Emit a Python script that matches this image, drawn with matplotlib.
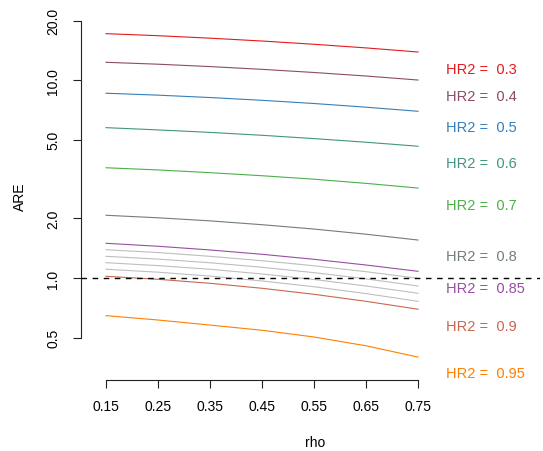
import matplotlib
matplotlib.use("Agg")
import matplotlib.pyplot as plt

plt.rcParams['font.family'] = ['Liberation Sans', 'DejaVu Sans']
plt.rcParams['lines.scale_dashes'] = False

rho = [0.15, 0.25, 0.35, 0.45, 0.55, 0.65, 0.75]

hr2_labeled = [0.3, 0.4, 0.5, 0.6, 0.7, 0.8, 0.85, 0.9, 0.95]
are_labeled = {
    0.3:  [17.21, 16.81, 16.33, 15.80, 15.21, 14.58, 13.90],
    0.4:  [12.33, 12.06, 11.73, 11.36, 10.95, 10.51, 10.03],
    0.5:  [8.60, 8.41, 8.18, 7.92, 7.63, 7.31, 6.97],
    0.6:  [5.76, 5.61, 5.45, 5.27, 5.07, 4.86, 4.64],
    0.7:  [3.61, 3.52, 3.41, 3.29, 3.16, 3.01, 2.85],
    0.8:  [2.076, 2.016, 1.945, 1.860, 1.768, 1.665, 1.556],
    0.85: [1.498, 1.447, 1.386, 1.318, 1.243, 1.163, 1.081],
    0.9:  [1.020, 0.985, 0.940, 0.887, 0.827, 0.762, 0.695],
    0.95: [0.645, 0.613, 0.578, 0.544, 0.503, 0.454, 0.398],
}
hr2_grey = [0.86, 0.87, 0.88, 0.89]
are_grey = {
    0.86: [1.390, 1.345, 1.287, 1.223, 1.153, 1.076, 0.997],
    0.87: [1.287, 1.246, 1.194, 1.133, 1.064, 0.990, 0.911],
    0.88: [1.195, 1.155, 1.107, 1.048, 0.983, 0.911, 0.837],
    0.89: [1.107, 1.070, 1.022, 0.966, 0.903, 0.834, 0.762],
}
colors = ["#E41A1C", "#8D4C6A", "#377EB8", "#429681", "#4DAF4A",
          "#727E76", "#984EA3", "#CB6651", "#FF7F00"]
label_x = 0.804
label_y = [11.41, 8.30, 5.78, 3.82, 2.35, 1.287, 0.890, 0.574, 0.331]

yticks = [0.5, 1.0, 2.0, 5.0, 10.0, 20.0]
ytick_labels = ["0.5", "1.0", "2.0", "5.0", "10.0", "20.0"]
xticks = [0.15, 0.25, 0.35, 0.45, 0.55, 0.65, 0.75]
xtick_labels = ["0.15", "0.25", "0.35", "0.45", "0.55", "0.65", "0.75"]

fig = plt.figure(figsize=(5.43, 4.52), dpi=100)
ax = fig.add_axes([81/543, 1-381/452, (540-81)/543, (381-12)/452])
ax.set_yscale('log')
ax.set_xlim(0.1019, 0.9846)
ax.set_ylim(0.3048, 22.41)

lw = 0.8
for h in hr2_grey:
    ax.plot(rho, are_grey[h], color="#BEBEBE", lw=lw)
for h, c in zip(hr2_labeled, colors):
    ax.plot(rho, are_labeled[h], color=c, lw=lw)
for h, c, ly in zip(hr2_labeled, colors, label_y):
    ax.text(label_x, ly, "HR2 =  " + str(h), color=c, fontsize=10.5,
            ha='left', va='center')

ax.axhline(1.0, color='black', lw=1.0, linestyle=(0, (4, 4)))

for s in ['top', 'right']:
    ax.spines[s].set_visible(False)
ax.spines['left'].set_bounds(0.5, 20)
ax.spines['bottom'].set_bounds(0.15, 0.75)
for s in ['left', 'bottom']:
    ax.spines[s].set_linewidth(0.8)
    ax.spines[s].set_color('#222222')

ax.set_yticks(yticks)
ax.set_yticklabels(ytick_labels, rotation=90, va='center')
ax.yaxis.set_minor_locator(matplotlib.ticker.NullLocator())
ax.set_xticks(xticks)
ax.set_xticklabels(xtick_labels)
ax.tick_params(axis='both', length=5.8, width=0.8, color='#222222',
               labelsize=10, labelcolor='black')
ax.tick_params(axis='x', pad=8)
ax.tick_params(axis='y', pad=9)

fig.text(315/543, 1-443/452, "rho", ha='center', va='center', fontsize=10)
fig.text(20/543, 1-197/452, "ARE", ha='center', va='center', fontsize=10,
         rotation=90)

fig.savefig("out.png", dpi=100)
